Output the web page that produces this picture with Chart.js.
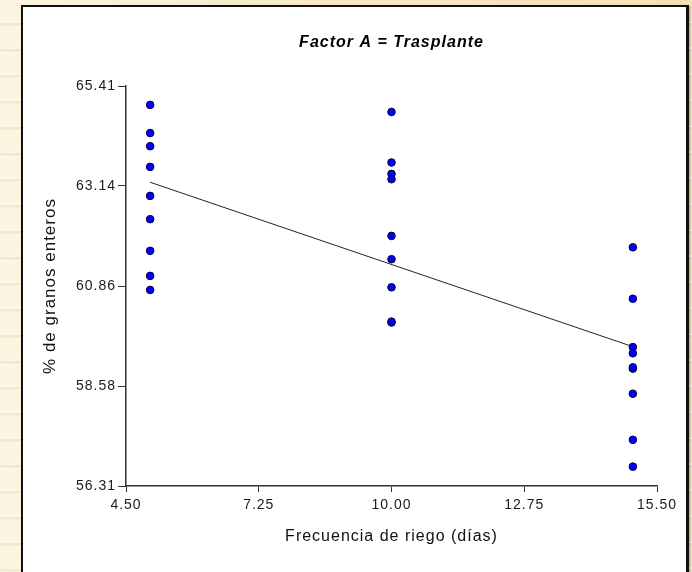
<!DOCTYPE html>
<html>
<head>
<meta charset="utf-8">
<script src="https://cdn.jsdelivr.net/npm/chart.js@4"></script>
<style>
  html, body { margin: 0; padding: 0; }
  body {
    width: 692px; height: 572px; overflow: hidden; position: relative;
    background:
      repeating-linear-gradient(180deg, rgba(255,255,255,0) 0px, rgba(255,255,255,0) 21px, rgba(255,255,255,0.7) 22px, rgba(215,190,140,0.35) 24px, rgba(255,255,255,0) 26px),
      linear-gradient(90deg, #fbf5e2 0%, #f7e8c6 50%, #f4e0b6 100%);
  }
  #paper {
    position: absolute; left: 21px; top: 5px; width: 663px; height: 600px;
    background: #fff; border-left: 2px solid #111; border-top: 2px solid #111; border-right: 3px solid #111;
    box-shadow: 1px 1px 2px rgba(0,0,0,0.3);
  }
  #chart { position: absolute; left: 0; top: 0; }
</style>
</head>
<body>
<div id="paper"></div>
<canvas id="chart" width="692" height="572"></canvas>
<script>
// % de granos enteros por frecuencia de riego
const frecuencias = [5, 10, 15];
const riego5  = [64.98, 64.34, 64.04, 63.57, 62.91, 62.38, 61.66, 61.09, 60.77];
const riego10 = [64.82, 63.67, 63.41, 63.29, 62.00, 61.47, 60.83, 60.03, 60.05];
const riego15 = [61.74, 60.57, 59.47, 59.33, 58.98, 59.01, 58.41, 57.36, 56.75];

// recta de regresion (extremos)
const lineaX = [5, 15];
const lineaY = [63.22, 59.48];

const xTicks = [4.50, 7.25, 10.00, 12.75, 15.50];
const yTicks = [56.31, 58.58, 60.86, 63.14, 65.41];

const grupos = [riego5, riego10, riego15];
const puntos = [];
grupos.forEach((g, i) => g.forEach(v => puntos.push({ x: frecuencias[i], y: v })));
const linea = lineaX.map((x, i) => ({ x, y: lineaY[i] }));

const FONT = "'Liberation Sans', Arial, sans-serif";

const spacing = {
  id: 'spacing',
  beforeDraw(chart) { chart.ctx.letterSpacing = '1px'; }
};

new Chart(document.getElementById('chart'), {
  type: 'scatter',
  data: {
    datasets: [
      {
        data: puntos,
        backgroundColor: '#0000ff',
        borderColor: '#000033',
        borderWidth: 1,
        pointRadius: 3.8,
        order: 0
      },
      {
        type: 'line',
        data: linea,
        borderColor: '#222',
        borderWidth: 1,
        pointRadius: 0,
        fill: false,
        order: 1
      }
    ]
  },
  options: {
    responsive: false,
    animation: false,
    layout: { padding: { left: 0, right: 35, top: 0, bottom: 0 } },
    plugins: {
      legend: { display: false },
      tooltip: { enabled: false },
      title: {
        display: true,
        text: 'Factor A = Trasplante',
        fullSize: false,
        color: '#000',
        font: { family: FONT, size: 16, weight: 'bold', style: 'italic', lineHeight: 1.2 },
        padding: { top: 33.4, bottom: 33.4 }
      }
    },
    scales: {
      x: {
        type: 'linear',
        min: 4.5, max: 15.5,
        afterBuildTicks: s => { s.ticks = xTicks.map(v => ({ value: v })); },
        afterFit: s => { s.height = 86; },
        grid: { drawOnChartArea: false, drawTicks: true, tickLength: 6, color: '#333' },
        border: { display: true, color: '#333', width: 1.5 },
        ticks: { color: '#1a1a22', font: { family: FONT, size: 14 }, padding: 5, maxRotation: 0,
                 callback: v => v.toFixed(2) },
        title: { display: true, text: 'Frecuencia de riego (días)', color: '#111',
                 font: { family: FONT, size: 16, lineHeight: 1.2 }, padding: { top: 0, bottom: 25.6 } }
      },
      y: {
        type: 'linear',
        min: 56.31, max: 65.41,
        afterBuildTicks: s => { s.ticks = yTicks.map(v => ({ value: v })); },
        afterFit: s => { s.width = 126; },
        grid: { drawOnChartArea: false, drawTicks: true, tickLength: 8, color: '#333' },
        border: { display: true, color: '#333', width: 1.5 },
        ticks: { color: '#1a1a22', font: { family: FONT, size: 14 }, padding: 2,
                 callback: v => v.toFixed(2) },
        title: { display: true, text: '% de granos enteros', color: '#111',
                 font: { family: FONT, size: 17, lineHeight: 1.2 }, padding: { top: 39.8, bottom: 0 } }
      }
    }
  },
  plugins: [spacing]
});
</script>
</body>
</html>
